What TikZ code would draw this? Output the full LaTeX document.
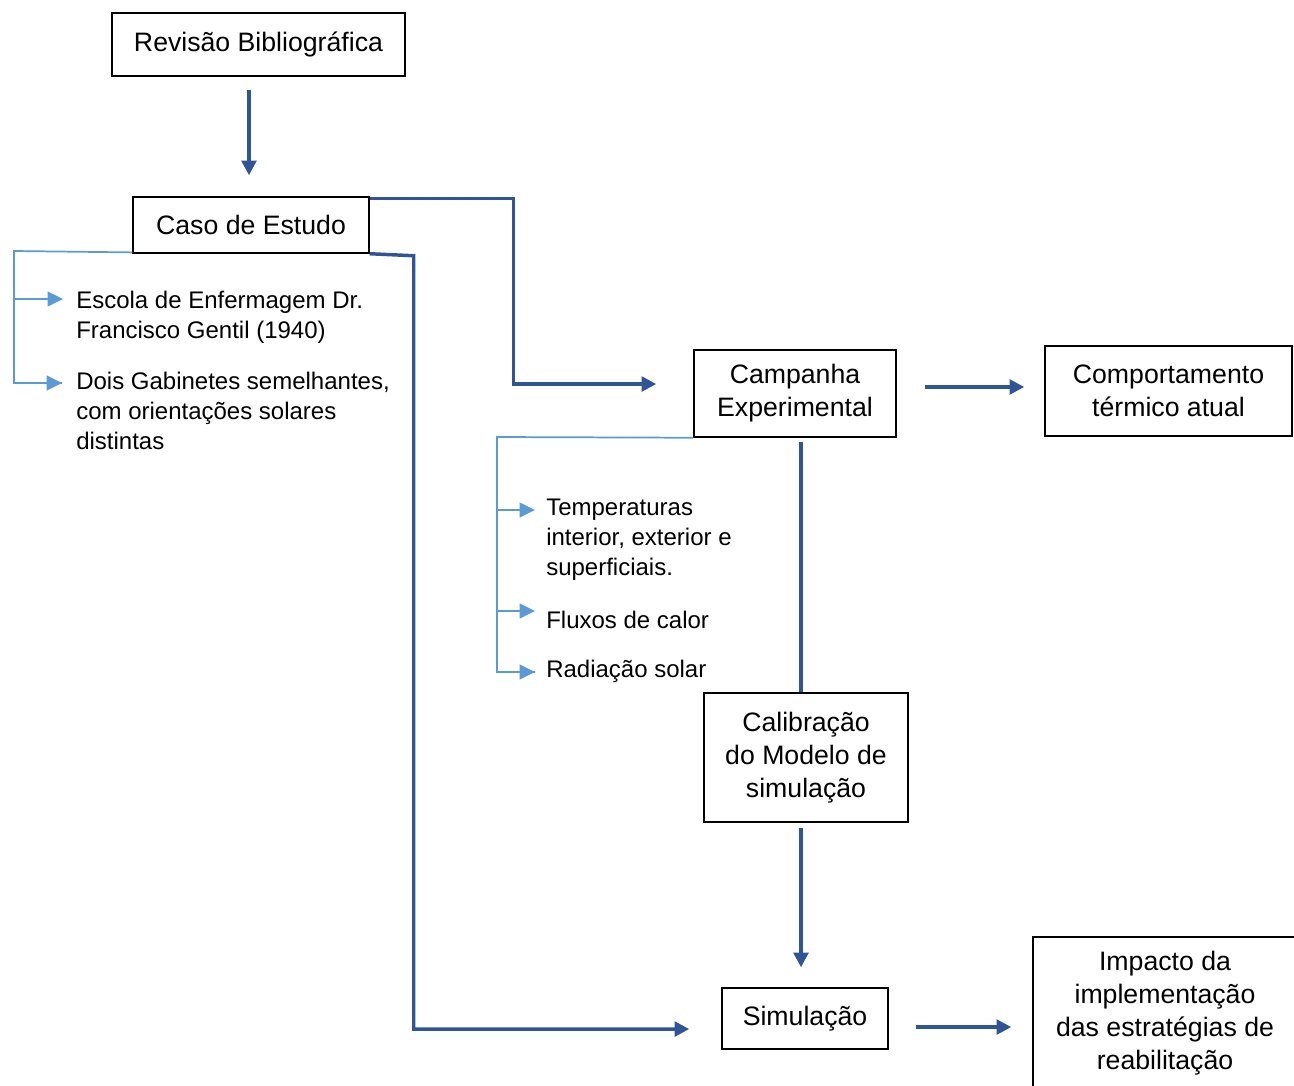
\documentclass[tikz,border=0pt]{standalone}
\usepackage{fontspec}
\setmainfont{Liberation Sans}
\usetikzlibrary{arrows.meta,calc}
\definecolor{dkblue}{HTML}{2F5597}
\definecolor{ltblue}{HTML}{5B9BD5}
\begin{document}
\begin{tikzpicture}[x=0.75pt,y=-0.75pt,
  box/.style={draw=black,line width=1.1pt,align=center,inner sep=0pt,
    font=\fontsize{20}{24.75}\selectfont},
  bullet/.style={anchor=west,align=left,inner sep=0pt,
    font=\fontsize{18}{22.5}\selectfont},
  arr/.style={draw=dkblue,line width=2.6pt,-{Triangle[length=11pt,width=11pt]}},
  plain/.style={draw=dkblue,line width=2.6pt},
  lb/.style={draw=ltblue,line width=1.3pt},
  lbarr/.style={draw=ltblue,line width=1.4pt,-{Triangle[length=11.5pt,width=11pt]}}]
\useasboundingbox (0,0) rectangle (1294,1085);
\begin{scope}
\clip (0,0) rectangle (1294,1085);
% boxes
\node[box,minimum width=219.75pt,minimum height=47.25pt] (rev) at (258.5,44.5) {Revisão Bibliográfica};
\node[box,minimum width=177pt,minimum height=42pt] (caso) at (251,225) {Caso de Estudo};
\node[box,minimum width=151.5pt,minimum height=65.25pt] (camp) at (795,393.5) {Campanha\\Experimental};
\node[box,minimum width=185.25pt,minimum height=67.5pt] (comp) at (1168.5,391) {Comportamento\\térmico atual};
\node[box,minimum width=153pt,minimum height=96.75pt] (calib) at (806,757.5) {Calibração\\do Modelo de\\simulação};
\node[box,minimum width=124.5pt,minimum height=45.75pt] (sim) at (805,1018.5) {Simulação};
\node[box,minimum width=198pt,minimum height=114pt] (imp) at (1165,1013) {Impacto da\\implementação\\das estratégias de\\reabilitação};
% bullet texts
\node[bullet] (esc) at (76,317) {Escola de Enfermagem Dr.\\Francisco Gentil (1940)};
\node[bullet] (dois) at (76,411) {Dois Gabinetes semelhantes,\\com orientações solares\\distintas};
\node[bullet] (temp) at (546,540) {Temperaturas\\interior, exterior e\\superficiais.};
\node[bullet] (flux) at (546,620) {Fluxos de calor};
\node[bullet] (rad) at (546,671) {Radiação solar};
% dark connectors
\draw[arr,shorten <=9.75pt,shorten >=15.75pt] ([xshift=-1.5pt]caso.north |- rev.south) -- ([xshift=-1.5pt]caso.north);
\draw[arr,shorten >=27.75pt] ([yshift=-1.5pt]caso.north east) -- ++(144,0) |- ([yshift=7.1pt]camp.west);
\draw[arr,shorten >=24pt] (caso.south east) -- ++(44,2) |- ([yshift=-7.9pt]sim.west);
\draw[arr,shorten <=21pt,shorten >=15pt] ([yshift=4.9pt]camp.east) -- ([yshift=4.9pt]camp.east -| comp.west);
\draw[plain,shorten <=3pt] ([xshift=-3.75pt]calib.north |- camp.south) -- ([xshift=-3.75pt]calib.north);
\draw[arr,shorten <=3.75pt,shorten >=15pt] ([xshift=-3.75pt]calib.south) -- ([xshift=-3.75pt]calib.south |- sim.north);
\draw[arr,shorten <=20.25pt,shorten >=15.75pt] ([yshift=-6.4pt]sim.east) -- ([yshift=-6.4pt]sim.east -| imp.west);
% light connectors
\coordinate (e1) at (63,299);
\coordinate (e2) at (62,383);
\coordinate (c1) at (14,251);
\draw[lb] ([yshift=1pt]caso.south west) -- (c1) |- (e2);
\draw[lbarr] (c1 |- e1) -- (e1);
\draw[lbarr] (c1 |- e2) -- (e2);
\coordinate (t1) at (535,510);
\coordinate (t2) at (535,611);
\coordinate (t3) at (535,672);
\coordinate (c2) at (497,437);
\draw[lb] (camp.south west) -- (c2) |- (t3);
\draw[lbarr] (c2 |- t1) -- (t1);
\draw[lbarr] (c2 |- t2) -- (t2);
\draw[lbarr] (c2 |- t3) -- (t3);
\end{scope}
\end{tikzpicture}
\end{document}
